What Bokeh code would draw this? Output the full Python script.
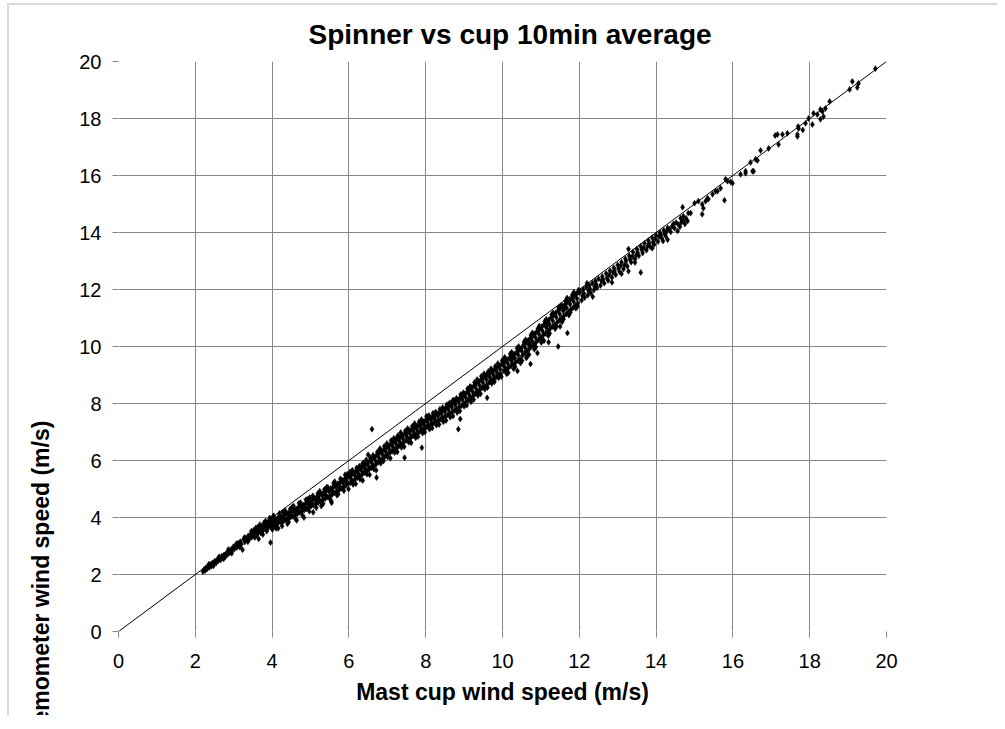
from bokeh.plotting import figure
from bokeh.models import Range1d, FixedTicker, Title
from bokeh.embed import file_html
from bokeh.resources import INLINE

# ---- data: (mast cup wind speed, spinner anemometer wind speed) ----
axis_ticks = [0, 2, 4, 6, 8, 10, 12, 14, 16, 18, 20]
identity_line = [0, 20]

seg_2_4 = [
    (2.20, 2.10), (2.23, 2.18), (2.26, 2.14), (2.28, 2.24), (2.31, 2.20), (2.34, 2.29), (2.37, 2.25), (2.40, 2.36), (2.42, 2.30), (2.45, 2.41),
    (2.48, 2.37), (2.51, 2.47), (2.54, 2.40), (2.57, 2.52), (2.60, 2.48), (2.63, 2.58), (2.66, 2.51), (2.69, 2.64), (2.72, 2.58), (2.75, 2.69),
    (2.78, 2.62), (2.81, 2.74), (2.84, 2.70), (2.87, 2.83), (2.90, 2.76), (2.93, 2.88), (2.96, 2.84), (2.99, 2.97), (3.02, 2.90), (3.05, 3.02),
    (3.08, 2.95), (3.11, 3.10), (3.14, 3.03), (3.17, 3.15), (3.20, 3.06), (3.23, 2.87), (3.26, 3.24), (3.29, 3.14), (3.32, 3.28), (3.35, 3.20),
    (3.38, 3.36), (3.41, 3.25), (3.44, 3.40), (3.47, 3.31), (3.50, 3.46), (3.53, 3.36), (3.56, 3.52), (3.58, 3.42), (3.61, 3.58), (3.64, 3.46),
    (3.65, 3.25), (3.67, 3.62), (3.70, 3.52), (3.72, 3.68), (3.75, 3.58), (3.77, 3.70), (3.80, 3.61), (3.82, 3.74), (3.85, 3.65), (3.87, 3.80),
    (3.90, 3.68), (3.92, 3.84), (3.95, 3.72), (3.96, 3.12), (3.98, 3.88), (4.00, 3.76),
    (3.52, 3.55), (3.60, 3.38), (3.68, 3.75), (3.74, 3.50), (3.83, 3.88), (3.88, 3.60), (3.93, 3.95), (3.99, 3.62), (4.02, 4.02), (4.05, 3.70),
    (4.08, 3.95), (4.10, 3.66),
    (2.35, 2.36), (2.47, 2.30), (2.62, 2.62), (2.74, 2.55), (2.86, 2.88), (2.95, 2.75), (3.07, 3.08), (3.16, 2.96), (3.28, 3.30), (3.37, 3.15),
    (3.46, 3.52), (3.55, 3.30), (3.63, 3.66), (3.71, 3.45), (3.79, 3.82), (3.86, 3.52), (3.94, 3.98), (4.01, 3.58), (3.58, 3.64), (3.76, 3.40),
]

seg_4_6 = [
    (4.03, 3.94), (4.06, 3.74), (4.09, 3.91), (4.12, 3.73), (4.15, 3.99), (4.18, 3.85), (4.21, 4.02), (4.24, 3.82), (4.27, 4.04), (4.30, 3.88),
    (4.33, 4.10), (4.36, 3.92), (4.39, 4.14), (4.42, 3.95), (4.45, 4.18), (4.48, 4.01), (4.51, 4.22), (4.54, 4.04), (4.57, 4.26), (4.60, 4.08),
    (4.63, 4.30), (4.66, 4.13), (4.69, 4.36), (4.72, 4.18), (4.75, 4.40), (4.78, 4.22), (4.81, 4.44), (4.84, 4.26), (4.87, 4.48), (4.90, 4.30),
    (4.93, 4.52), (4.96, 4.35), (4.99, 4.56), (5.02, 4.40), (5.05, 4.62), (5.08, 4.43), (5.11, 4.68), (5.14, 4.48), (5.17, 4.72), (5.20, 4.52),
    (5.23, 4.78), (5.26, 4.57), (5.29, 4.82), (5.32, 4.62), (5.35, 4.88), (5.38, 4.66), (5.41, 4.93), (5.44, 4.72), (5.47, 4.97), (5.50, 4.75),
    (5.53, 5.02), (5.55, 4.52), (5.56, 4.80), (5.59, 5.07), (5.62, 4.86), (5.65, 5.12), (5.68, 4.90), (5.71, 5.18), (5.74, 4.96), (5.77, 5.24),
    (5.80, 5.02), (5.83, 5.30), (5.86, 5.07), (5.89, 5.35), (5.92, 5.12), (5.95, 5.40), (5.98, 5.18),
    (4.05, 3.86), (4.14, 3.80), (4.23, 3.97), (4.32, 3.94), (4.41, 4.08), (4.50, 4.10), (4.59, 4.20), (4.68, 4.22), (4.77, 4.33), (4.86, 4.36),
    (4.95, 4.47), (5.04, 4.49), (5.13, 4.60), (5.22, 4.63), (5.31, 4.76), (5.40, 4.78), (5.49, 4.90), (5.58, 4.93), (5.67, 5.05), (5.76, 5.08),
    (5.85, 5.22), (5.94, 5.25),
    (4.04, 4.06), (4.11, 3.62), (4.19, 4.14), (4.26, 3.70), (4.34, 4.24), (4.43, 3.84), (4.52, 4.36), (4.61, 3.95), (4.70, 4.50), (4.79, 4.08),
    (4.88, 4.62), (4.97, 4.22), (5.06, 4.76), (5.15, 4.34), (5.24, 4.92), (5.33, 4.48), (5.42, 5.06), (5.51, 4.64), (5.60, 5.20), (5.69, 4.78),
    (5.78, 5.36), (5.87, 4.94), (5.96, 5.52), (4.47, 4.30), (4.92, 4.64), (5.36, 4.98), (5.81, 5.26),
    (4.16, 3.62), (4.28, 4.18), (4.40, 3.78), (4.56, 4.40), (4.64, 3.90), (4.74, 4.52), (4.83, 4.00), (4.98, 4.70), (5.07, 4.18), (5.19, 4.84),
    (5.28, 4.40), (5.45, 5.06), (5.54, 4.58), (5.63, 5.26), (5.72, 4.82), (5.90, 5.50), (5.99, 5.00),
]

seg_6_8 = [
    (6.01, 5.46), (6.04, 5.22), (6.07, 5.50), (6.10, 5.28), (6.13, 5.58), (6.16, 5.34), (6.19, 5.62), (6.22, 5.40), (6.25, 5.68), (6.28, 5.45),
    (6.31, 5.74), (6.34, 5.50), (6.37, 5.80), (6.40, 5.57), (6.43, 5.86), (6.46, 5.62), (6.49, 5.92), (6.50, 6.20), (6.52, 5.68), (6.55, 6.00),
    (6.58, 5.74), (6.60, 7.10), (6.61, 6.06), (6.64, 5.80), (6.67, 6.12), (6.70, 5.86), (6.72, 5.40), (6.73, 6.20), (6.76, 5.93), (6.79, 6.26),
    (6.82, 6.00), (6.85, 6.32), (6.88, 6.06), (6.91, 6.38), (6.94, 6.14), (6.97, 6.45), (7.00, 6.20), (7.03, 6.52), (7.06, 6.27), (7.09, 6.58),
    (7.12, 6.32), (7.15, 6.64), (7.18, 6.38), (7.21, 6.70), (7.24, 6.44), (7.27, 6.76), (7.30, 6.50), (7.33, 6.82), (7.36, 6.56), (7.39, 6.88),
    (7.42, 6.62), (7.45, 6.10), (7.46, 6.95), (7.49, 6.70), (7.52, 7.00), (7.55, 6.74), (7.58, 7.05), (7.61, 6.80), (7.64, 7.10), (7.67, 6.86),
    (7.70, 7.14), (7.73, 6.90), (7.76, 7.20), (7.79, 6.96), (7.82, 7.26), (7.85, 7.02), (7.88, 7.30), (7.90, 6.45), (7.91, 7.08), (7.94, 7.36),
    (7.97, 7.12),
    (6.05, 5.36), (6.15, 5.48), (6.24, 5.55), (6.33, 5.64), (6.42, 5.72), (6.51, 5.80), (6.60, 5.90), (6.69, 6.00), (6.78, 6.10), (6.87, 6.21),
    (6.96, 6.31), (7.05, 6.40), (7.14, 6.49), (7.23, 6.58), (7.32, 6.67), (7.41, 6.76), (7.50, 6.85), (7.59, 6.94), (7.68, 7.02), (7.77, 7.10),
    (7.86, 7.18), (7.95, 7.26),
    (6.03, 5.60), (6.11, 5.16), (6.20, 5.74), (6.29, 5.34), (6.38, 5.92), (6.47, 5.52), (6.56, 6.10), (6.65, 5.70), (6.74, 6.30), (6.83, 5.90),
    (6.92, 6.50), (7.01, 6.12), (7.10, 6.70), (7.19, 6.28), (7.28, 6.88), (7.37, 6.46), (7.47, 7.04), (7.56, 6.64), (7.65, 7.20), (7.74, 6.80),
    (7.83, 7.36), (7.92, 6.96), (6.35, 5.88), (6.80, 6.34), (7.25, 6.80), (7.70, 7.22),
    (6.09, 5.66), (6.18, 5.18), (6.27, 5.80), (6.36, 5.30), (6.45, 6.02), (6.54, 5.50), (6.63, 6.18), (6.71, 5.66), (6.81, 6.42), (6.90, 5.98),
    (6.99, 6.60), (7.08, 6.08), (7.17, 6.78), (7.26, 6.30), (7.35, 6.98), (7.44, 6.48), (7.53, 7.12), (7.62, 6.62), (7.71, 7.30), (7.80, 6.84),
    (7.89, 7.44), (7.98, 7.00),
]

seg_8_10 = [
    (8.00, 7.42), (8.03, 7.18), (8.06, 7.46), (8.09, 7.22), (8.12, 7.50), (8.15, 7.28), (8.18, 7.54), (8.21, 7.32), (8.24, 7.58), (8.27, 7.36),
    (8.30, 7.64), (8.33, 7.40), (8.36, 7.68), (8.39, 7.45), (8.42, 7.74), (8.45, 7.50), (8.48, 7.80), (8.51, 7.55), (8.54, 7.86), (8.57, 7.60),
    (8.60, 7.92), (8.63, 7.66), (8.66, 7.98), (8.69, 7.70), (8.72, 8.04), (8.75, 7.76), (8.78, 8.08), (8.81, 7.82), (8.84, 8.14), (8.85, 7.10),
    (8.87, 7.88), (8.90, 8.20), (8.90, 7.46), (8.93, 7.92), (8.96, 8.26), (8.99, 8.00), (9.02, 8.34), (9.05, 8.06), (9.08, 8.40), (9.11, 8.12),
    (9.14, 8.48), (9.17, 8.20), (9.20, 8.56), (9.23, 8.26), (9.26, 8.62), (9.29, 8.34), (9.32, 8.70), (9.35, 8.40), (9.38, 8.76), (9.41, 8.48),
    (9.44, 8.84), (9.47, 8.55), (9.50, 8.90), (9.53, 8.60), (9.56, 8.96), (9.59, 8.66), (9.60, 8.20), (9.62, 9.02), (9.65, 8.74), (9.68, 9.08),
    (9.71, 8.80), (9.74, 9.14), (9.77, 8.86), (9.80, 9.20), (9.83, 8.92), (9.86, 9.26), (9.89, 8.98), (9.92, 9.32), (9.95, 9.04), (9.98, 9.38),
    (8.05, 7.34), (8.14, 7.42), (8.23, 7.48), (8.32, 7.56), (8.41, 7.64), (8.50, 7.72), (8.59, 7.80), (8.68, 7.88), (8.77, 7.96), (8.86, 8.05),
    (8.95, 8.14), (9.04, 8.22), (9.13, 8.32), (9.22, 8.42), (9.31, 8.53), (9.40, 8.64), (9.49, 8.74), (9.58, 8.84), (9.67, 8.92), (9.76, 9.01),
    (9.85, 9.10), (9.94, 9.19),
    (8.02, 7.55), (8.10, 7.10), (8.19, 7.66), (8.28, 7.24), (8.37, 7.80), (8.46, 7.36), (8.55, 7.96), (8.64, 7.52), (8.73, 8.12), (8.82, 7.68),
    (8.91, 8.32), (9.00, 7.90), (9.09, 8.52), (9.18, 8.06), (9.27, 8.74), (9.36, 8.28), (9.45, 8.96), (9.54, 8.50), (9.63, 9.12), (9.72, 8.70),
    (9.81, 9.30), (9.90, 8.90), (9.99, 9.50), (8.25, 7.62), (8.70, 8.10), (9.15, 8.56), (9.60, 9.04),
    (8.08, 7.58), (8.17, 7.14), (8.26, 7.70), (8.35, 7.26), (8.44, 7.86), (8.53, 7.40), (8.62, 8.02), (8.71, 7.56), (8.80, 8.18), (8.89, 7.74),
    (8.98, 8.38), (9.07, 7.94), (9.16, 8.60), (9.25, 8.14), (9.34, 8.84), (9.43, 8.34), (9.52, 9.04), (9.61, 8.56), (9.70, 9.22), (9.79, 8.76),
    (9.88, 9.40), (9.97, 8.94),
]

seg_10_12 = [
    (10.01, 9.40), (10.04, 9.14), (10.07, 9.48), (10.10, 9.20), (10.13, 9.54), (10.16, 9.26), (10.19, 9.60), (10.22, 9.32), (10.25, 9.68), (10.28, 9.38),
    (10.31, 9.74), (10.34, 9.44), (10.37, 9.80), (10.39, 9.14), (10.40, 9.50), (10.43, 9.88), (10.46, 9.56), (10.49, 9.94), (10.52, 9.68), (10.55, 10.06),
    (10.58, 9.76), (10.61, 10.14), (10.64, 9.84), (10.67, 10.22), (10.70, 9.92), (10.73, 9.39), (10.73, 10.30), (10.76, 10.00), (10.79, 10.38), (10.82, 10.08),
    (10.85, 10.46), (10.88, 10.16), (10.91, 10.54), (10.91, 9.77), (10.94, 10.24), (10.97, 10.62), (11.00, 10.32), (11.03, 10.70), (11.06, 10.40), (11.09, 10.78),
    (11.12, 10.46), (11.15, 10.86), (11.18, 10.54), (11.20, 10.15), (11.21, 10.94), (11.24, 10.62), (11.27, 11.02), (11.30, 10.70), (11.33, 11.10), (11.36, 10.76),
    (11.39, 11.18), (11.42, 10.84), (11.45, 10.00), (11.45, 11.26), (11.48, 10.92), (11.51, 11.34), (11.54, 11.00), (11.57, 11.42), (11.60, 11.08), (11.63, 11.48),
    (11.66, 11.14), (11.69, 11.56), (11.69, 10.47), (11.72, 11.22), (11.75, 11.62), (11.78, 11.30), (11.81, 11.70), (11.84, 11.36), (11.87, 11.76), (11.90, 11.44),
    (11.93, 11.84), (11.96, 11.52), (11.99, 11.90),
    (10.05, 9.30), (10.14, 9.40), (10.23, 9.50), (10.32, 9.60), (10.41, 9.70), (10.50, 9.84), (10.59, 9.96), (10.68, 10.08), (10.77, 10.20), (10.86, 10.32),
    (10.95, 10.44), (11.04, 10.55), (11.13, 10.68), (11.22, 10.79), (11.31, 10.90), (11.40, 11.03), (11.49, 11.14), (11.58, 11.25), (11.67, 11.36), (11.76, 11.48),
    (11.85, 11.58), (11.94, 11.68),
    (10.03, 9.56), (10.11, 9.04), (10.20, 9.74), (10.29, 9.22), (10.38, 9.94), (10.47, 9.42), (10.56, 10.16), (10.65, 9.66), (10.74, 10.40), (10.83, 9.90),
    (10.92, 10.62), (11.01, 10.14), (11.10, 10.88), (11.19, 10.38), (11.28, 11.12), (11.37, 10.62), (11.46, 11.36), (11.55, 10.86), (11.64, 11.60), (11.73, 11.10),
    (11.82, 11.82), (11.91, 11.34), (11.98, 11.98), (10.26, 9.58), (10.71, 10.10), (11.16, 10.72), (11.61, 11.32), (10.62, 9.60), (11.08, 10.20), (11.50, 10.70),
    (10.06, 9.62), (10.15, 9.08), (10.24, 9.80), (10.33, 9.28), (10.42, 10.00), (10.51, 9.50), (10.60, 10.24), (10.69, 9.72), (10.78, 10.48), (10.87, 9.98),
    (10.96, 10.72), (11.05, 10.22), (11.14, 10.96), (11.23, 10.46), (11.32, 11.18), (11.41, 10.70), (11.52, 11.44), (11.59, 10.96), (11.68, 11.70), (11.77, 11.20),
    (11.86, 11.90), (11.95, 11.40),
]

seg_12_15 = [
    (12.02, 11.92), (12.06, 11.62), (12.10, 12.00), (12.14, 11.72), (12.18, 12.08), (12.20, 12.22), (12.22, 11.80), (12.26, 12.14), (12.30, 11.88), (12.34, 12.22),
    (12.38, 11.98), (12.42, 12.30), (12.46, 12.06), (12.50, 12.38), (12.55, 12.14), (12.60, 12.46), (12.65, 12.22), (12.70, 12.56), (12.75, 12.32), (12.80, 12.66),
    (12.85, 12.42), (12.90, 12.76), (12.95, 12.52), (13.00, 12.86), (13.05, 12.62), (13.10, 12.96), (13.15, 12.72), (13.20, 13.08), (13.25, 12.82), (13.28, 12.64),
    (13.28, 13.42), (13.30, 13.18), (13.35, 12.96), (13.40, 13.32), (13.45, 13.06), (13.50, 13.42), (13.55, 13.18), (13.60, 12.60), (13.60, 13.52), (13.65, 13.28),
    (13.70, 13.62), (13.75, 13.38), (13.80, 13.72), (13.85, 13.50), (13.90, 13.82), (13.95, 13.58), (14.00, 13.90), (14.05, 13.68), (14.10, 14.00), (14.15, 13.80),
    (14.20, 14.08), (14.25, 13.88), (14.30, 14.16), (14.38, 14.02), (14.45, 14.30),
    (12.12, 11.86), (12.28, 12.02), (12.44, 12.18), (12.62, 12.36), (12.78, 12.52), (12.92, 12.66), (13.08, 12.84), (13.22, 13.00), (13.38, 13.16), (13.52, 13.30),
    (13.68, 13.46), (13.82, 13.62), (13.98, 13.78), (14.12, 13.92), (14.28, 14.04), (14.18, 13.70),
    (14.35, 14.12), (14.42, 14.22), (14.48, 14.15), (14.52, 14.35), (14.58, 14.28), (14.62, 14.20), (14.66, 14.36), (14.75, 14.30), (14.78, 14.50),
    (12.35, 11.75), (12.85, 12.25), (13.10, 12.55), (13.45, 12.95), (13.90, 13.45), (14.30, 13.75),
    (12.08, 11.78), (12.24, 11.96), (12.40, 12.10), (12.58, 12.30), (12.72, 12.40), (12.88, 12.60), (13.02, 12.74), (13.18, 12.86), (13.32, 13.06), (13.48, 13.20),
    (13.62, 13.40), (13.78, 13.52), (13.92, 13.66), (14.08, 13.86), (14.22, 13.96),
]

seg_15_20 = [
    (14.56, 14.05), (14.64, 14.50), (14.69, 14.89), (14.71, 14.57), (14.71, 14.40), (14.82, 14.40), (14.84, 14.68), (14.90, 14.68), (15.00, 15.03), (15.10, 15.10),
    (15.20, 14.64), (15.20, 14.99), (15.23, 14.85), (15.29, 15.10), (15.34, 15.20), (15.36, 15.17), (15.47, 15.34), (15.55, 15.45), (15.60, 15.45), (15.68, 15.55),
    (15.78, 15.13), (15.81, 15.87), (15.86, 15.80), (15.94, 15.78), (15.99, 15.73), (16.20, 16.04), (16.33, 16.15), (16.33, 16.08), (16.46, 16.46), (16.51, 16.15),
    (16.54, 16.15), (16.59, 16.57), (16.64, 16.53), (16.72, 16.88), (16.93, 16.95), (17.10, 17.40), (17.16, 17.44), (17.19, 17.09), (17.29, 17.44), (17.42, 17.48),
    (17.68, 17.44), (17.68, 17.37), (17.70, 17.72), (17.71, 17.65), (17.82, 17.60), (17.89, 17.83), (17.97, 18.00), (18.07, 17.79), (18.10, 18.18), (18.20, 18.14),
    (18.28, 17.97), (18.28, 18.32), (18.33, 18.25), (18.36, 18.07), (18.41, 18.35), (18.52, 18.60), (19.04, 19.02), (19.11, 19.30), (19.24, 19.09), (19.27, 19.23),
    (19.71, 19.75),
]

points = seg_2_4 + seg_4_6 + seg_6_8 + seg_8_10 + seg_10_12 + seg_12_15 + seg_15_20
cup = [c for c, s in points]
spinner = [s for c, s in points]

FONT = "Liberation Sans"
GRID = "#868686"
Y_TITLE = "Spinner anemometer wind speed (m/s)"

p = figure(width=990, height=712, output_backend="svg", toolbar_location=None,
           x_range=Range1d(0, 20), y_range=Range1d(0, 20),
           min_border_left=109, min_border_right=113, min_border_top=55, min_border_bottom=86)
p.styles = {"border-top": "2px solid #d9d9d9", "border-left": "2px solid #d9d9d9",
            "margin-left": "7px", "margin-top": "3px"}

main_title = Title(text="Spinner vs cup  10min average", align="left", offset=190, standoff=23,
                   text_font=FONT, text_font_size="28px", text_font_style="bold", text_color="black")
p.add_layout(main_title, "above")

p.outline_line_color = None
p.background_fill_color = "white"
p.border_fill_color = "white"

for ax in (p.xaxis[0], p.yaxis[0]):
    ax.ticker = FixedTicker(ticks=axis_ticks)
    ax.axis_line_color = None
    ax.major_tick_line_color = GRID
    ax.major_tick_in = 0
    ax.major_tick_out = 6
    ax.minor_tick_line_color = None
    ax.major_label_text_font = FONT
    ax.major_label_text_font_size = "20px"
    ax.major_label_text_color = "black"
    ax.axis_label_text_font = FONT
    ax.axis_label_text_font_size = "23px"
    ax.axis_label_text_font_style = "bold"
    ax.axis_label_text_color = "black"

p.xaxis.axis_label = "Mast cup wind speed (m/s)"
p.xaxis.major_label_standoff = 16
p.yaxis.major_label_standoff = 11
p.xaxis.axis_label_standoff = 8

# the y-axis title sits low (starting near the bottom of the plot) in the original
yax = p.yaxis[0]
try:
    yax.axis_label_align = "start"
    yax.axis_label = Y_TITLE
    yax.axis_label_standoff = 22
except Exception:
    y_title = Title(text=Y_TITLE, align="left", offset=10, standoff=37,
                    text_font=FONT, text_font_size="23px", text_font_style="bold", text_color="black")
    p.add_layout(y_title, "left")

p.xgrid.ticker = FixedTicker(ticks=axis_ticks)
p.ygrid.ticker = FixedTicker(ticks=axis_ticks)
p.grid.grid_line_color = GRID
p.grid.grid_line_width = 1

p.scatter(cup, spinner, marker="diamond", size=6, fill_color="black", line_color="black", line_width=0.5)
p.line(identity_line, identity_line, line_color="black", line_width=1)

open("out.html", "w").write(file_html(p, INLINE))
